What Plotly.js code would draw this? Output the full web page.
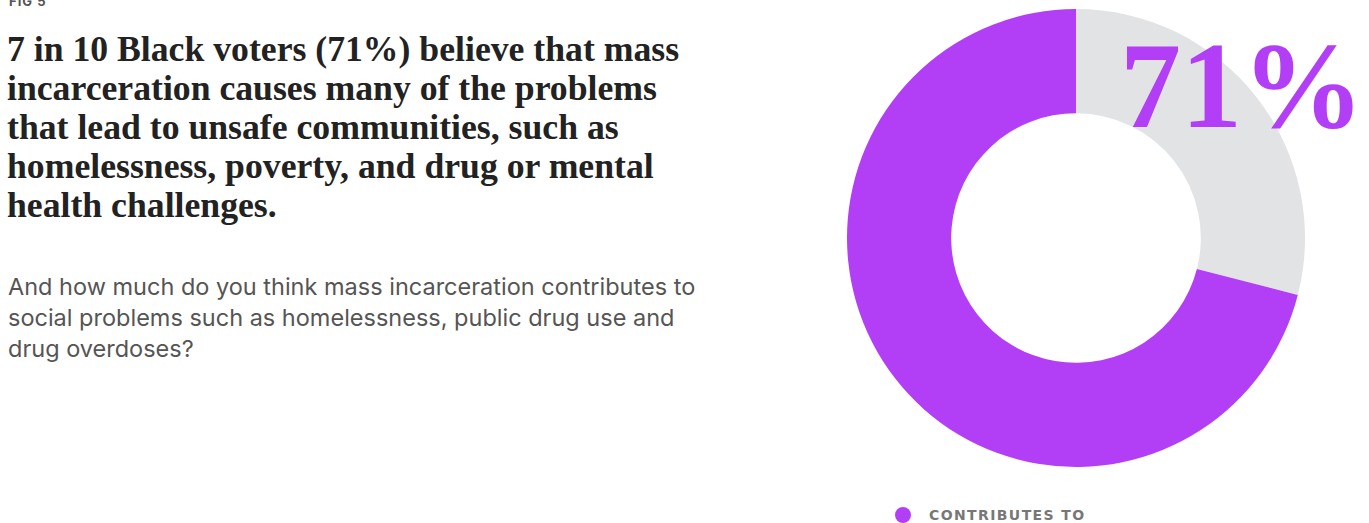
<!DOCTYPE html>
<html>
<head>
<meta charset="utf-8">
<script src="https://cdn.plot.ly/plotly-3.0.1.min.js"></script>
<style>html,body{margin:0;padding:0;background:#fff;}#chart{width:1369px;height:523px;}</style>
</head>
<body>
<div id="chart"></div>
<script>
const categories = ["Does not contribute", "Contributes to"];
const values = [29, 71];
const sliceColors = ["#e2e3e5", "#b23ff6"];
const accent = "#b23ff6";
const bigLabel = "71%";
const figLabel = "FIG 5";
const titleLines = [
  "7 in 10 Black voters (71%) believe that mass",
  "incarceration causes many of the problems",
  "that lead to unsafe communities, such as",
  "homelessness, poverty, and drug or mental",
  "health challenges."
];
const subtitleLines = [
  "And how much do you think mass incarceration contributes to",
  "social problems such as homelessness, public drug use and",
  "drug overdoses?"
];
const legendLabel = "CONTRIBUTES TO";

const W = 1369, H = 523;
const px = x => x / W;
const py = y => 1 - y / H;

const cx = 1076, cy = 238, R = 229;

const trace = {
  type: "pie",
  labels: categories,
  values: values,
  marker: {colors: sliceColors, line: {width: 0}},
  hole: 0.545,
  sort: false,
  direction: "clockwise",
  rotation: 0,
  textinfo: "none",
  hoverinfo: "label+percent",
  showlegend: false,
  domain: {x: [px(cx - R), px(cx + R)], y: [py(cy + R), py(cy - R)]}
};

const annotations = [];
annotations.push({
  xref: "paper", yref: "paper", x: px(7), y: py(1), xanchor: "left", yanchor: "middle",
  text: "<b>" + figLabel.split("").join("\u200A") + "</b>", showarrow: false,
  font: {family: "Inter, 'DejaVu Sans', sans-serif", size: 13, color: "#555"}
});
titleLines.forEach((t, i) => {
  annotations.push({
    xref: "paper", yref: "paper", x: px(5), y: py(49 + 39 * i), xanchor: "left", yanchor: "middle",
    text: "<b>" + t + "</b>", showarrow: false,
    font: {family: "'Liberation Serif', serif", size: 35.7, color: "#222"}
  });
});
subtitleLines.forEach((t, i) => {
  annotations.push({
    xref: "paper", yref: "paper", x: px(6), y: py(286 + 31 * i), xanchor: "left", yanchor: "middle",
    text: t, showarrow: false,
    font: {family: "Inter, sans-serif", size: 23.5, color: "#555"}
  });
});
annotations.push({
  xref: "paper", yref: "paper", x: px(1366), y: py(86), xanchor: "right", yanchor: "middle",
  text: "<b>" + bigLabel + "</b>", showarrow: false,
  font: {family: "'Liberation Serif', serif", size: 122, color: accent}
});
annotations.push({
  xref: "paper", yref: "paper", x: px(927), y: py(515), xanchor: "left", yanchor: "middle",
  text: "<b>" + legendLabel.split("").join("\u200A") + "</b>", showarrow: false,
  font: {family: "'DejaVu Sans', sans-serif", size: 14, color: "#777"}
});

const layout = {
  width: W, height: H,
  margin: {l: 0, r: 0, t: 0, b: 0},
  paper_bgcolor: "#fff",
  showlegend: false,
  annotations: annotations,
  shapes: [{
    type: "circle", xref: "paper", yref: "paper",
    x0: px(895), x1: px(911), y0: py(523), y1: py(507),
    fillcolor: accent, line: {width: 0}
  }]
};

Plotly.newPlot("chart", [trace], layout, {displayModeBar: false, staticPlot: true});
</script>
</body>
</html>
